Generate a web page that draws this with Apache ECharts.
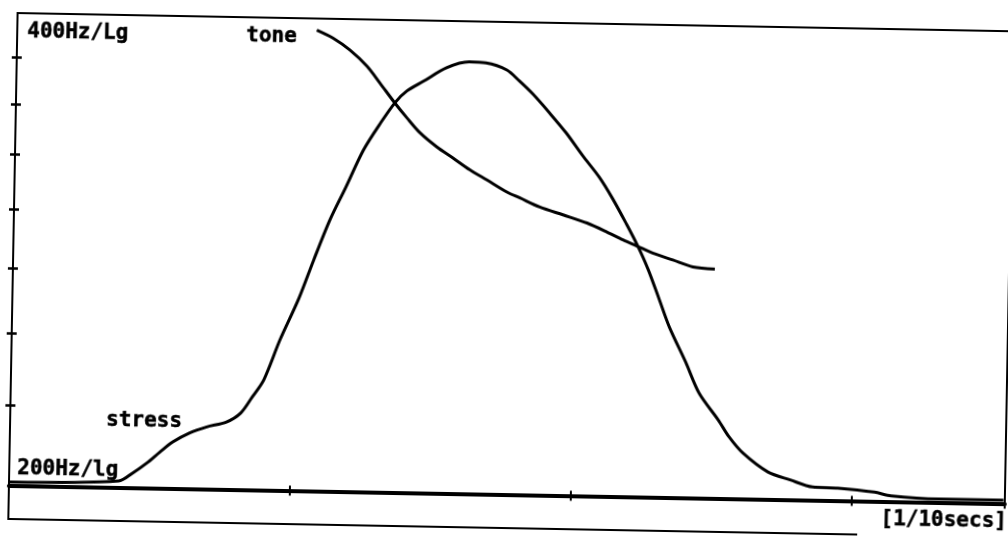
<!DOCTYPE html>
<html><head><meta charset="utf-8">
<script src="https://cdn.jsdelivr.net/npm/echarts@6/dist/echarts.min.js"></script>
<style>
html,body{margin:0;padding:0;background:#fff;overflow:hidden;width:1008px;height:536px;}
#chart{position:absolute;left:-16px;top:-12px;width:1040px;height:560px;transform:rotate(1.05deg);transform-origin:50% 50%;}
</style></head><body><div id="chart"></div>
<script>
// time in 1/10 s, pitch in Hz (log scale 200..400)
const stressTime = [0, 0.39, 0.44, 0.49, 0.535, 0.58, 0.64, 0.70, 0.77, 0.82, 0.86, 0.90, 0.955, 1.02, 1.07, 1.125, 1.18, 1.24, 1.30, 1.35, 1.39, 1.45, 1.53, 1.61, 1.67, 1.745, 1.79, 1.84, 1.90, 1.96, 2.02, 2.08, 2.13, 2.18, 2.22, 2.26, 2.30, 2.34, 2.40, 2.45, 2.52, 2.56, 2.61, 2.70, 2.78, 2.86, 2.95, 3.08, 3.14, 3.31, 3.54];
const stressHz = [201.0, 201.9, 204.4, 207.5, 210.9, 214.1, 217.1, 219.1, 220.8, 223.8, 229.2, 235.1, 249.4, 265.3, 280.7, 297.8, 312.7, 330.3, 344.0, 354.5, 360.5, 366.0, 373.4, 376.9, 376.5, 372.8, 367.0, 360.0, 350.4, 340.5, 329.5, 319.5, 309.5, 298.5, 289.5, 279.5, 268.0, 256.8, 244.1, 233.3, 224.4, 218.9, 213.9, 208.2, 205.9, 203.9, 203.7, 202.7, 201.7, 201.0, 201.0];
const toneTime = [1.066, 1.124, 1.185, 1.247, 1.294, 1.349, 1.393, 1.44, 1.501, 1.559, 1.62, 1.681, 1.753, 1.80, 1.871, 1.954, 2.04, 2.111, 2.169, 2.219, 2.276, 2.348, 2.42, 2.498];
const toneHz = [393.3, 388.9, 382.3, 373.5, 364.5, 354.0, 346.5, 339.2, 332.4, 327.2, 321.7, 317.1, 311.7, 309.1, 305.2, 301.9, 298.5, 294.8, 291.5, 289.0, 286.1, 283.4, 280.7, 280.0];
const hzTicks = [225, 250, 275, 300, 325, 350, 375];
const hzMin = 200, hzMax = 400;
const timeMin = 0, timeMax = 3.545, timeStep = 1;
const topLabel = '400Hz/Lg';
const bottomLabel = '200Hz/lg';
const toneLabel = 'tone';
const stressLabel = 'stress';
const unitLabel = '[1/10secs]';

const lg = h => Math.log2(h / hzMin);
const lgMax = lg(hzMax);
const font = 'bold 21px "DejaVu Sans Mono"';

const chart = echarts.init(document.getElementById('chart'), null, {renderer: 'canvas'});
const xCommon = {
  type: 'value', min: timeMin, max: timeMax, interval: timeStep,
  axisLabel: {show: false}, splitLine: {show: false},
  axisTick: {show: true, inside: true, length: 5, lineStyle: {color: '#000', width: 2}}
};
const yCommon = {
  type: 'value', min: 0, max: lgMax,
  axisLabel: {show: false}, splitLine: {show: false},
  axisLine: {show: true, lineStyle: {color: '#000', width: 2}},
  axisTick: {show: true, inside: true, length: 5, customValues: hzTicks.map(lg), lineStyle: {color: '#000', width: 2.5}}
};
const txt = (x, y, text) => ({type: 'text', style: {x: x, y: y, text: text, font: font, fill: '#000', stroke: '#000', lineWidth: 0.5, align: 'left', verticalAlign: 'middle'}});
chart.setOption({
  animation: false,
  backgroundColor: '#fff',
  grid: {left: 29, right: 15, top: 34, bottom: 53.5, show: true, borderColor: '#000', borderWidth: 2},
  xAxis: [
    Object.assign({}, xCommon, {position: 'bottom', axisLine: {show: true, lineStyle: {color: '#000', width: 4}}}),
    Object.assign({}, xCommon, {position: 'top', axisLine: {show: true, lineStyle: {color: '#000', width: 2.5}}})
  ],
  yAxis: [
    Object.assign({}, yCommon, {position: 'left'}),
    Object.assign({}, yCommon, {position: 'right'})
  ],
  series: [
    {name: 'stress', type: 'line', smooth: 0.3, showSymbol: false,
     lineStyle: {color: '#000', width: 3},
     data: stressTime.map((t, i) => [t, lg(stressHz[i])])},
    {name: 'tone', type: 'line', smooth: 0.3, showSymbol: false,
     lineStyle: {color: '#000', width: 3},
     data: toneTime.map((t, i) => [t, lg(toneHz[i])])}
  ],
  graphic: [
    txt(39, 53, topLabel),
    txt(258, 52.5, toneLabel),
    txt(125, 440, stressLabel),
    txt(37, 490, bottomLabel),
    txt(901, 525, unitLabel),
    {type: 'line', shape: {x1: 29, y1: 505, x2: 29, y2: 540}, style: {stroke: '#000', lineWidth: 2}},
    {type: 'line', shape: {x1: 28, y1: 540, x2: 878, y2: 540}, style: {stroke: '#000', lineWidth: 2}}
  ]
});
</script></body></html>
